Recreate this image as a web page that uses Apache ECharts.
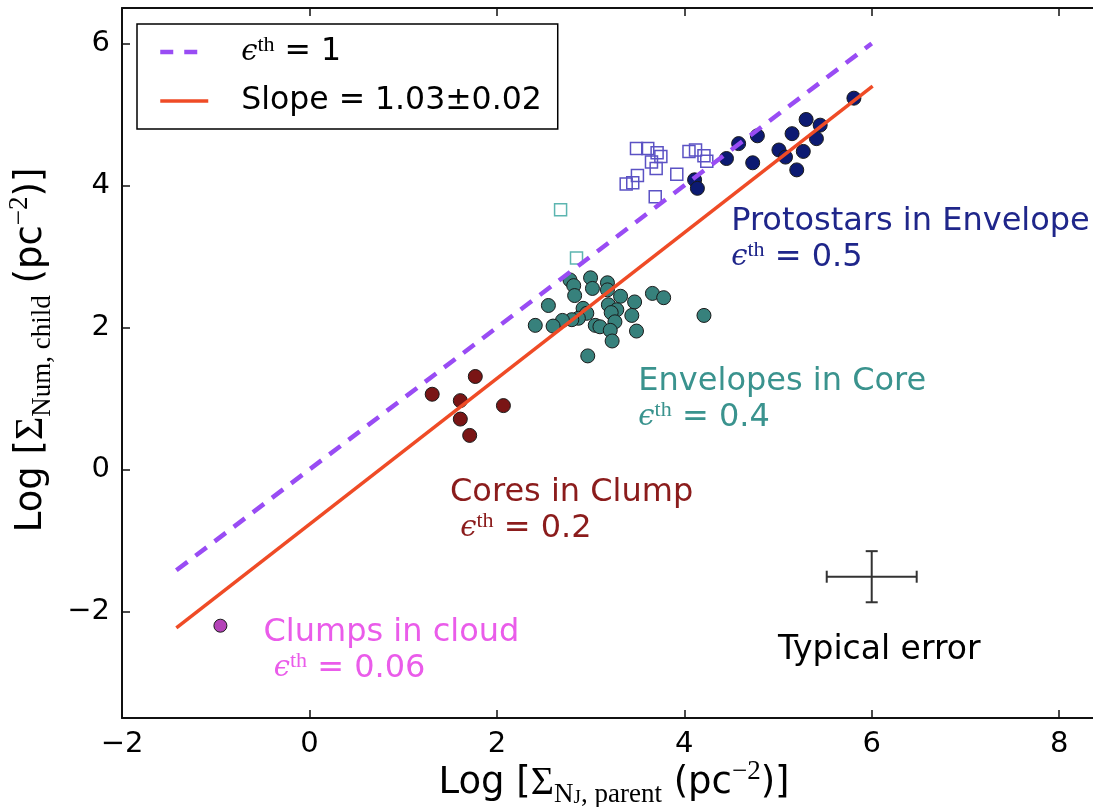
<!DOCTYPE html>
<html>
<head>
<meta charset="utf-8">
<script src="https://cdn.jsdelivr.net/npm/echarts@6/dist/echarts.min.js"></script>
<style>
html, body { margin: 0; padding: 0; background: #fff; }
#chart { width: 1093px; height: 807px; }
</style>
</head>
<body>
<div id="chart"></div>
<script>
// values: [log parent, log child]
var clumpPts = [[-0.95, -2.20]];
var corePts = [[1.77, 1.31], [1.31, 1.06], [1.61, 0.97], [2.07, 0.90], [1.61, 0.71], [1.71, 0.48]];
var envPts = [
    [3.00, 2.70], [2.78, 2.67], [2.82, 2.59], [3.18, 2.63], [3.02, 2.55], [3.18, 2.53],
    [2.83, 2.45], [3.32, 2.44], [3.66, 2.48], [3.78, 2.42], [3.47, 2.36], [2.55, 2.31],
    [3.19, 2.32], [3.28, 2.25], [3.22, 2.21], [2.92, 2.27], [2.96, 2.20], [2.87, 2.13],
    [3.44, 2.17], [3.26, 2.08], [2.80, 2.11], [2.70, 2.10], [2.41, 2.03], [2.60, 2.02],
    [3.05, 2.03], [3.10, 2.01], [3.21, 1.96], [3.49, 1.95], [3.23, 1.81], [4.21, 2.17],
    [2.97, 1.60]
];
var envOpen = [[2.68, 3.66], [2.85, 2.98]];
var protoPts = [
    [5.81, 5.23], [5.30, 4.93], [5.45, 4.85], [5.15, 4.73], [5.41, 4.66], [5.01, 4.50],
    [5.08, 4.40], [5.27, 4.48], [5.20, 4.22], [4.78, 4.70], [4.58, 4.59], [4.45, 4.38],
    [4.73, 4.32], [4.11, 4.08], [4.14, 3.96]
];
var protoOpen = [
    [3.49, 4.52], [3.61, 4.52], [3.71, 4.46], [3.75, 4.41], [3.65, 4.33], [3.70, 4.24],
    [3.50, 4.14], [3.45, 4.04], [3.38, 4.02], [3.92, 4.16], [3.69, 3.84], [4.05, 4.48],
    [4.12, 4.50], [4.21, 4.42], [4.24, 4.34]
];
// reference lines (end points)
var unityLine = [[-1.42, -1.42], [6.0, 6.0]];
var fitLine = [[-1.42, -2.23], [6.01, 5.40]];
// typical error bar: x, y, xerr, yerr
var typicalErr = [[6.0, -1.51, 0.48, 0.36]];

var yTicks = [-2, 0, 2, 4, 6];

var noteNames = ['Protostars in Envelope', 'Envelopes in Core', 'Cores in Clump', 'Clumps in cloud'];
var noteEps = ['0.5', '0.4', '0.2', '0.06'];
var noteIndent = ['', '', ' ', ' '];
var notePos = [[4.50, 3.75], [3.51, 1.49], [1.50, -0.07], [-0.49, -2.04]];
var noteColors = ['#1f268a', '#3a938e', '#8b1c1c', '#ea5cea'];
var errLabelPos = [[6.08, -2.55]];

var SANS = 'DejaVu Sans';
var SERIF = 'Liberation Serif';

var chart = echarts.init(document.getElementById('chart'));

function minus(v) {
    return v < 0 ? '\u2212' + Math.abs(v) : String(v);
}

function epsRich(color) {
    return {
        e: { fontFamily: 'DejaVu Serif', fontStyle: 'italic', fontSize: 29, color: color, lineHeight: 36 },
        th: { fontFamily: SERIF, fontSize: 22, color: color, verticalAlign: 'top', lineHeight: 22 },
        v: { fontFamily: SANS, fontSize: 32, color: color, lineHeight: 36 }
    };
}

var noteData = noteNames.map(function (n, i) {
    return {
        value: notePos[i],
        label: {
            show: true,
            position: [0, 0],
            align: 'left',
            verticalAlign: 'top',
            color: noteColors[i],
            fontFamily: SANS,
            fontSize: 32,
            lineHeight: 36,
            formatter: n + '\n{v|' + noteIndent[i] + '}{e|\u03f5}{th|th}{v| = ' + noteEps[i] + '}',
            rich: epsRich(noteColors[i])
        }
    };
});

function dotStyle(fill) {
    return { color: fill, borderColor: '#1a1a1a', borderWidth: 1, opacity: 1 };
}

var titleRich = {
    S: { fontFamily: SERIF, fontSize: 40, color: '#000', lineHeight: 50 },
    sub: { fontFamily: SERIF, fontSize: 27, color: '#000', verticalAlign: 'bottom', lineHeight: 24 },
    subsub: { fontFamily: SERIF, fontSize: 19, color: '#000', verticalAlign: 'bottom', lineHeight: 17 },
    sup: { fontFamily: SERIF, fontSize: 27, color: '#000', verticalAlign: 'top', lineHeight: 24 }
};

var option = {
    animation: false,
    backgroundColor: '#fff',
    textStyle: { fontFamily: SANS },
    grid: { left: 122, top: 8, bottom: 89, right: -13, outerBoundsMode: 'none', containLabel: false },
    legend: {
        data: [{
            name: 'eps1',
            itemStyle: { opacity: 0 },
            lineStyle: { color: '#994cf4', width: 4.5, type: [13, 11] }
        }, {
            name: 'slope',
            itemStyle: { opacity: 0 },
            lineStyle: { color: '#ef4b26', width: 3.5 }
        }],
        left: 137,
        top: 24,
        orient: 'vertical',
        itemWidth: 48,
        itemHeight: 14,
        itemGap: 13,
        padding: [10, 16, 10, 21],
        borderColor: '#000',
        borderWidth: 1.5,
        borderRadius: 0,
        backgroundColor: '#fff',
        selectedMode: false,
        itemStyle: { opacity: 0 },
        textStyle: {
            fontFamily: SANS,
            fontSize: 31.5,
            color: '#000',
            lineHeight: 36,
            padding: [0, 0, 0, 28],
            rich: {
                e: { fontFamily: 'DejaVu Serif', fontStyle: 'italic', fontSize: 29, color: '#000', lineHeight: 36 },
                th: { fontFamily: SERIF, fontSize: 22, color: '#000', verticalAlign: 'top', lineHeight: 22 },
                v: { fontFamily: SANS, fontSize: 31.5, color: '#000', lineHeight: 36 }
            }
        },
        formatter: function (name) {
            if (name === 'eps1') return '{e|\u03f5}{th|th}{v| = 1}';
            return 'Slope = 1.03\u00b10.02';
        }
    },
    xAxis: [{
        type: 'value',
        min: -2,
        max: 8.5,
        interval: 2,
        position: 'bottom',
        axisLine: { onZero: false, lineStyle: { color: '#111', width: 2 } },
        axisTick: { inside: true, length: 8, lineStyle: { color: '#111', width: 1.5 } },
        axisLabel: { fontSize: 29, color: '#000', margin: 12, showMaxLabel: false, formatter: minus },
        splitLine: { show: false },
        name: 'Log [{S|\u03a3}{sub|N}{subsub|J}{sub|, parent} (pc{sup|\u22122})]',
        nameLocation: 'middle',
        nameGap: 40,
        nameMoveOverlap: false,
        nameTextStyle: {
            fontSize: 37, color: '#000', lineHeight: 50, fontFamily: SANS,
            rich: titleRich
        }
    }, {
        type: 'value',
        min: -2,
        max: 8.5,
        interval: 2,
        position: 'top',
        axisLine: { onZero: false, lineStyle: { color: '#111', width: 2 } },
        axisTick: { inside: true, length: 8, lineStyle: { color: '#111', width: 1.5 } },
        axisLabel: { show: false },
        splitLine: { show: false }
    }],
    yAxis: [{
        type: 'value',
        min: -3.5,
        max: 6.5,
        axisLine: { onZero: false, lineStyle: { color: '#111', width: 2 } },
        axisTick: { inside: true, length: 8, customValues: yTicks, lineStyle: { color: '#111', width: 1.5 } },
        axisLabel: { fontSize: 29, color: '#000', margin: 12, customValues: yTicks, formatter: minus },
        splitLine: { show: false },
        name: 'Log [{S|\u03a3}{sub|Num, child} (pc{sup|\u22122})]',
        nameLocation: 'middle',
        nameRotate: 90,
        nameGap: 60,
        nameTextStyle: {
            fontSize: 37, color: '#000', lineHeight: 50, fontFamily: SANS,
            padding: [0, 0, 0, 26],
            rich: titleRich
        }
    }],
    series: [{
        name: 'clumps',
        type: 'scatter',
        data: clumpPts,
        symbol: 'circle',
        symbolSize: 13,
        itemStyle: dotStyle('#b443b8'),
        z: 2
    }, {
        name: 'cores',
        type: 'scatter',
        data: corePts,
        symbol: 'circle',
        symbolSize: 14,
        itemStyle: dotStyle('#7a1515'),
        z: 2
    }, {
        name: 'envelopes',
        type: 'scatter',
        data: envPts,
        symbol: 'circle',
        symbolSize: 14,
        itemStyle: dotStyle('#37817c'),
        z: 2
    }, {
        name: 'envelopes open',
        type: 'scatter',
        data: envOpen,
        symbol: 'rect',
        symbolSize: 12,
        itemStyle: { color: 'rgba(0,0,0,0)', borderColor: '#5cb5b0', borderWidth: 1.5, opacity: 1 },
        z: 2
    }, {
        name: 'protostars',
        type: 'scatter',
        data: protoPts,
        symbol: 'circle',
        symbolSize: 14,
        itemStyle: dotStyle('#0c1a72'),
        z: 2
    }, {
        name: 'protostars open',
        type: 'scatter',
        data: protoOpen,
        symbol: 'rect',
        symbolSize: 12,
        itemStyle: { color: 'rgba(0,0,0,0)', borderColor: '#5b52c4', borderWidth: 1.5, opacity: 1 },
        z: 2
    }, {
        name: 'eps1',
        type: 'line',
        data: unityLine,
        symbol: 'none',
        lineStyle: { color: '#994cf4', width: 4.5, type: [14, 10], cap: 'butt' },
        itemStyle: { color: '#994cf4' },
        z: 4
    }, {
        name: 'slope',
        type: 'line',
        data: fitLine,
        symbol: 'none',
        lineStyle: { color: '#ef4b26', width: 3.5 },
        itemStyle: { color: '#ef4b26' },
        z: 4
    }, {
        name: 'typical error',
        type: 'custom',
        data: typicalErr,
        renderItem: function (params, api) {
            var x = api.value(0), y = api.value(1), dx = api.value(2), dy = api.value(3);
            var l = api.coord([x - dx, y]), r = api.coord([x + dx, y]);
            var t = api.coord([x, y + dy]), b = api.coord([x, y - dy]);
            var cap = 6;
            var st = { stroke: '#333', lineWidth: 2 };
            return {
                type: 'group',
                children: [
                    { type: 'line', shape: { x1: l[0], y1: l[1], x2: r[0], y2: r[1] }, style: st },
                    { type: 'line', shape: { x1: t[0], y1: t[1], x2: b[0], y2: b[1] }, style: st },
                    { type: 'line', shape: { x1: l[0], y1: l[1] - cap, x2: l[0], y2: l[1] + cap }, style: st },
                    { type: 'line', shape: { x1: r[0], y1: r[1] - cap, x2: r[0], y2: r[1] + cap }, style: st },
                    { type: 'line', shape: { x1: t[0] - cap, y1: t[1], x2: t[0] + cap, y2: t[1] }, style: st },
                    { type: 'line', shape: { x1: b[0] - cap, y1: b[1], x2: b[0] + cap, y2: b[1] }, style: st }
                ]
            };
        },
        z: 3
    }, {
        name: 'notes',
        type: 'scatter',
        data: noteData,
        symbolSize: 0,
        silent: true,
        itemStyle: { opacity: 1 },
        z: 5
    }, {
        name: 'error note',
        type: 'scatter',
        data: errLabelPos,
        symbolSize: 0,
        silent: true,
        itemStyle: { opacity: 1 },
        label: {
            show: true,
            position: [0, 0],
            align: 'center',
            verticalAlign: 'middle',
            color: '#000',
            fontSize: 33,
            fontFamily: SANS,
            formatter: 'Typical error'
        },
        z: 5
    }]
};

chart.setOption(option);
</script>
</body>
</html>
